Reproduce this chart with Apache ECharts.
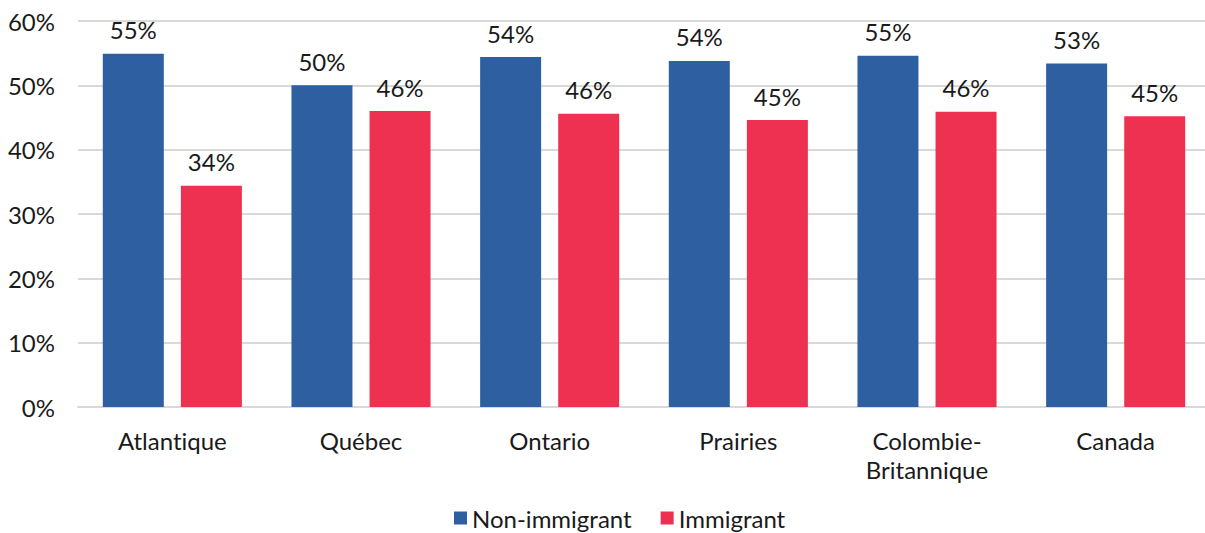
<!DOCTYPE html>
<html>
<head>
<meta charset="utf-8">
<script src="https://cdn.jsdelivr.net/npm/echarts@6/dist/echarts.min.js"></script>
<style>
  html, body { margin: 0; padding: 0; background: #ffffff; overflow: hidden; }
  /* drawing surface is a little wider than the window; the last group sits near the right edge */
  #chart { width: 1215px; height: 533px; font-variant-ligatures: none; font-feature-settings: "liga" 0, "clig" 0; }
  #chart text { font-variant-ligatures: none; font-feature-settings: "liga" 0, "clig" 0; }
</style>
</head>
<body>
<div id="chart"></div>
<script>
// Regions and share of each group (percent)
const regions = ['Atlantique', 'Québec', 'Ontario', 'Prairies', 'Colombie-\nBritannique', 'Canada'];
const nonImmigrant = [54.9, 50.0, 54.4, 53.8, 54.6, 53.4];
const immigrant = [34.4, 46.0, 45.6, 44.6, 45.9, 45.2];
const seriesNames = ['Non-immigrant', 'Immigrant'];
const yTicks = { min: 0, max: 60, interval: 10 };

const FONT = 'Lato, "Open Sans", sans-serif';
const TEXT = '#1a1a1a';
const FS = 24;

const chart = echarts.init(document.getElementById('chart'), null, { renderer: 'svg' });

const labelCfg = {
  show: true,
  position: 'top',
  distance: 12,
  color: TEXT,
  fontFamily: FONT,
  fontSize: FS,
  formatter: p => Math.round(p.value) + '%'
};

chart.setOption({
  animation: false,
  textStyle: { fontFamily: FONT },
  grid: { left: 78, right: 5, top: 21, bottom: 126 },
  legend: {
    top: 506,
    left: 454,
    padding: 0,
    itemWidth: 13,
    itemHeight: 13,
    itemGap: 29,
    icon: 'rect',
    textStyle: { fontFamily: FONT, fontSize: FS, color: TEXT, lineHeight: 24 },
    data: seriesNames
  },
  xAxis: {
    type: 'category',
    data: regions,
    axisLine: { show: true, lineStyle: { color: '#d9d9d9', width: 2 } },
    axisTick: { show: false },
    axisLabel: { fontFamily: FONT, fontSize: FS, color: TEXT, margin: 19, lineHeight: 29 }
  },
  yAxis: {
    type: 'value',
    min: yTicks.min,
    max: yTicks.max,
    interval: yTicks.interval,
    axisLine: { show: false },
    axisTick: { show: false },
    splitLine: { lineStyle: { color: '#d9d9d9', width: 2 } },
    axisLabel: { fontFamily: FONT, fontSize: FS, color: TEXT, margin: 23, formatter: v => v + '%' }
  },
  series: [
    {
      name: seriesNames[0],
      type: 'bar',
      data: nonImmigrant,
      barWidth: 61,
      barGap: '28%',
      itemStyle: { color: '#2E5FA1' },
      label: labelCfg
    },
    {
      name: seriesNames[1],
      type: 'bar',
      data: immigrant,
      barWidth: 61,
      itemStyle: { color: '#EE3150' },
      label: labelCfg
    }
  ]
});
</script>
</body>
</html>
